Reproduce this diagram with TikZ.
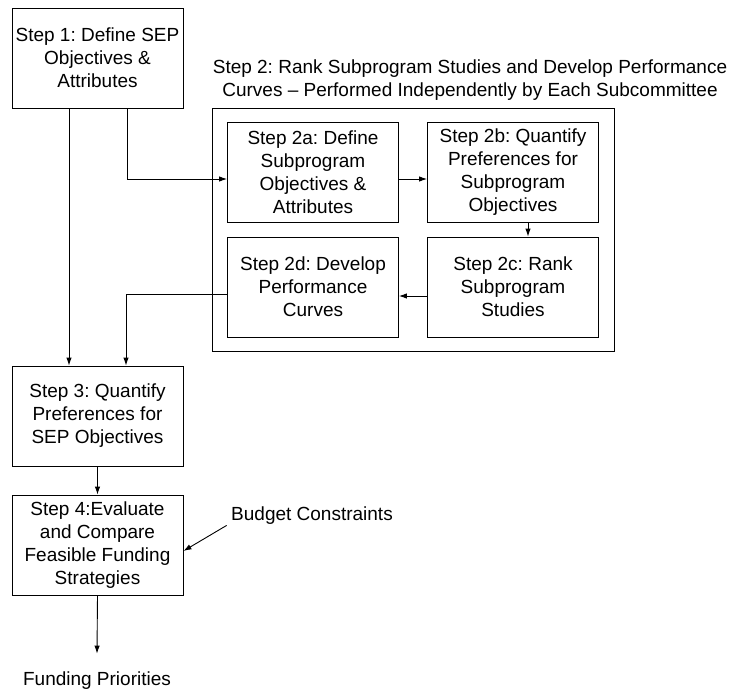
\documentclass[tikz,border=0pt]{standalone}
\usepackage{fontspec}
\setmainfont{Liberation Sans}
\usetikzlibrary{arrows.meta}
\begin{document}
\frenchspacing
\begin{tikzpicture}[x=1pt,y=-1pt,
        every node/.style={font=\fontsize{19}{23}\selectfont, align=center},
        stepbox/.style={draw, line width=0.9pt, minimum width=171pt, minimum height=100pt, inner sep=2pt},
        arr/.style={line width=0.9pt, -{Latex[length=8pt,width=5.5pt]}}]
            \useasboundingbox (0,0) rectangle (732,694);

            \node[stepbox] (step1) at (97.5,58) {Step 1: Define SEP\\Objectives \&\\Attributes};

            \node (title) at (470,80) {Step 2: Rank Subprogram Studies and Develop Performance\\Curves -- Performed Independently by Each Subcommittee};
            \node[draw, line width=0.9pt, minimum width=402pt, minimum height=243pt] (step2) at (413,229.5) {};

            \node[stepbox] (step2a) at (313,172) {Step 2a: Define\\Subprogram\\Objectives \&\\Attributes};
            \node[stepbox] (step2b) at (513,172) {Step 2b: Quantify\\Preferences for\\Subprogram\\Objectives};
            \node[stepbox] (step2c) at (513,287) {Step 2c: Rank\\Subprogram\\Studies};
            \node[stepbox] (step2d) at (313,287) {Step 2d: Develop\\Performance\\Curves};

            \node[stepbox] (step3) at (97.5,416) {Step 3: Quantify\\Preferences for\\SEP Objectives};
            \node[stepbox] (step4) at (97.5,545) {Step 4:Evaluate\\and Compare\\Feasible Funding\\Strategies};

            \node (budget) at (312,516) {Budget Constraints};
            \node (funding) at (97,681) {Funding Priorities};

            % step 1 into the subcommittee steps
            \draw[arr] ([xshift=29.5pt]step1.south) |- ([yshift=-7pt]step2a.west);
            \draw[arr] ([xshift=-28.5pt]step1.south) -- ([xshift=-28.5pt]step3.north);

            \draw[arr] ([yshift=-7pt]step2a.east) -- ([yshift=-7pt]step2b.west);
            \draw[arr] ([xshift=15pt]step2b.south) -- ([xshift=15pt]step2c.north);
            \draw[arr] ([yshift=-9pt]step2c.west) -- ([yshift=-9pt]step2d.east);
            \draw[arr] ([yshift=-7pt]step2d.west) -| ([xshift=28.5pt]step3.north);

            \draw[arr] (step3.south) -- (step4.north);
            \draw[arr] ([xshift=-1pt,yshift=3pt]budget.south west) -- ([yshift=-6pt]step4.east);
            \draw[arr] (step4.south) -- ([yshift=15pt]funding.north);
        \end{tikzpicture}
\end{document}
